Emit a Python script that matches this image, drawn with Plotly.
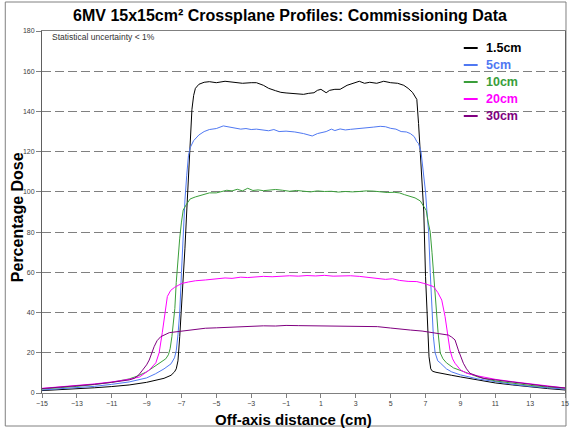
import plotly.graph_objects as go

# ---------------- data ----------------
depth_labels = ["1.5cm", "5cm", "10cm", "20cm", "30cm"]
line_colors = ["#000000", "#4f78f2", "#3a9e3a", "#ff00ff", "#800080"]

x_15 = [-15, -14, -13, -12, -11, -10, -9, -8.5, -8, -7.6, -7.4, -7.3, -7.2, -7.1, -7.0, -6.9, -6.8,
        -6.7, -6.6, -6.5, -6.4, -6.3, -6.2, -6.0, -5.7, -5.4, -5.0, -4.5, -4.0, -3.5, -3.0, -2.7,
        -2.3, -2.0, -1.6, -1.3, -1.0, -0.5, 0, 0.3, 0.6, 0.8, 1.0, 1.3, 1.5, 1.8, 2.1, 2.5, 2.8,
        3.2, 3.5, 3.8, 4.2, 4.6, 5.0, 5.4, 5.75, 6.0, 6.25, 6.5, 6.6, 6.7, 6.8, 6.9, 7.0, 7.1,
        7.2, 7.3, 7.4, 7.6, 8.0, 8.5, 9.0, 10, 11, 12, 13, 14, 15]
y_15 = [1.2, 1.6, 2.0, 2.6, 3.2, 4.0, 5.3, 6.2, 7.3, 8.8, 10.5, 12, 16, 28, 42, 55, 72,
        90, 108, 126, 141, 148, 151.5, 153.5, 154.5, 154.8, 154.3, 155, 154.5, 154, 154.3, 154.3,
        153, 151.5, 150.3, 149.5, 149.2, 149, 148.5, 149, 149.3, 150.5, 151, 149.3, 150.5, 151, 151, 153, 154,
        155, 154, 154.5, 154, 155, 154.3, 154, 153, 151.5, 149.5, 146, 134, 120, 108, 90, 58, 37,
        18, 12, 10.8, 10.3, 9.5, 8.8, 8.0, 6.5, 5.0, 4.0, 3.0, 2.2, 1.5]

x_5 = [-15, -14, -13, -12, -11, -10, -9, -8.5, -8, -7.6, -7.4, -7.3, -7.2, -7.1, -7.0, -6.9, -6.8,
       -6.7, -6.6, -6.5, -6.3, -6.0, -5.7, -5.4, -5.0, -4.6, -4.3, -4.0, -3.6, -3.3, -3.0, -2.7,
       -2.4, -2.0, -1.7, -1.4, -1.0, -0.5, 0, 0.3, 0.5, 0.8, 1.0, 1.3, 1.6, 1.8, 2.1, 2.4, 2.7,
       3.0, 3.5, 4.0, 4.4, 4.7, 5.0, 5.3, 5.6, 5.9, 6.13, 6.35, 6.5, 6.6, 6.74, 6.85, 7.0, 7.1,
       7.18, 7.27, 7.37, 7.45, 7.55, 7.7, 7.84, 8.2, 8.5, 9, 10, 11, 12, 13, 14, 15]
y_5 = [1.5, 2.0, 2.6, 3.3, 4.3, 5.5, 7.5, 9.5, 12, 14.5, 17.5, 21, 29, 40, 60, 82, 96,
       108, 118, 122, 125.5, 128.3, 130, 131, 131.5, 132.8, 132.4, 132, 131.2, 131.5, 131, 131.2,
       130.8, 130.4, 131, 130, 130.2, 129.8, 129, 128.3, 127.8, 129, 129.5, 130, 131.2, 130.5, 131.3, 130.8, 131.1,
       131.3, 131.6, 132.2, 132.6, 132.4, 131.6, 131.2, 130, 129.8, 129, 127.5, 125, 124, 120, 112, 100, 88,
       80, 60, 40, 28, 20, 16, 15, 12, 10.5, 9, 7, 5.5, 4.3, 3.3, 2.5, 1.9]

x_10 = [-15, -14, -13, -12, -11, -10, -9.5, -9, -8.6, -8.2, -7.9, -7.75, -7.65, -7.55, -7.45, -7.38,
        -7.3, -7.2, -7.1, -7.0, -6.9, -6.7, -6.5, -6.2, -6.0, -5.7, -5.4, -5.0, -4.7, -4.4, -4.1,
        -3.8, -3.5, -3.2, -2.9, -2.6, -2.3, -2.0, -1.6, -1.2, -0.8, -0.4, 0, 0.4, 0.8, 1.2, 1.6,
        2.0, 2.4, 2.8, 3.2, 3.6, 4.0, 4.4, 4.8, 5.2, 5.5, 5.8, 6.13, 6.4, 6.7, 6.9, 7.04, 7.15,
        7.27, 7.37, 7.46, 7.54, 7.61, 7.72, 7.84, 8.0, 8.2, 8.6, 9.07, 9.5, 10, 11, 12, 13, 14, 15]
y_10 = [2.0, 2.6, 3.3, 4.2, 5.3, 7.0, 8.5, 10.5, 13, 15.5, 17, 19, 22, 28, 35, 42,
        55, 68, 77, 85, 91, 94, 96.5, 97.5, 98, 99, 99.5, 99.5, 100.3, 100.8, 100.5,
        101.3, 100.5, 101.8, 100.7, 101, 100.6, 101, 101.2, 100.8, 100.3, 100.7, 100.2, 100, 100.5, 100.2, 100.3,
        99.9, 100.2, 100, 100.2, 100.5, 100.4, 100, 99.7, 99.8, 99.5, 98.6, 97.8, 97, 95.5, 93, 90.8, 85,
        80, 70, 60, 50, 40, 30, 20, 17, 15, 12.5, 11, 9.5, 8, 6, 4.8, 3.8, 3.0, 2.4]

x_20 = [-15, -14, -13, -12, -11, -10, -9.4, -8.85, -8.47, -8.28, -8.1, -7.94, -7.81, -7.62, -7.4,
        -7.15, -6.96, -6.6, -6.2, -5.63, -5.0, -4.5, -4.1, -3.6, -3.2, -2.8, -2.3, -1.8, -1.3,
        -0.8, -0.3, 0.2, 0.7, 1.2, 1.7, 2.2, 2.7, 3.2, 3.7, 4.24, 4.7, 5.1, 5.5, 6.0, 6.5, 6.9,
        7.2, 7.46, 7.7, 7.93, 8.12, 8.26, 8.4, 8.55, 8.69, 9.0, 9.36, 10, 10.7, 11, 12, 13, 14, 15]
y_20 = [2.3, 3.0, 3.6, 4.5, 5.5, 6.8, 8.0, 11.4, 15, 20, 30, 40, 48, 51, 52.5,
        53.7, 54.5, 55.2, 55.8, 56.2, 56.6, 57.2, 57, 57.6, 57.4, 57.8, 58, 57.8, 58.2,
        58.3, 58.1, 58.4, 58.2, 58.5, 58.1, 58.3, 58.3, 58, 57.5, 57, 56.5, 56.8, 56, 55.5, 55.4, 54.5,
        53.8, 52.9, 50, 46.2, 38, 29.7, 21.4, 17, 14.8, 11.5, 9.8, 8.5, 7.3, 6.8, 5.6, 4.6, 3.5, 2.5]

x_30 = [-15, -14, -13, -12, -11, -10, -9.7, -9.45, -9.23, -9.0, -8.85, -8.7, -8.57, -8.4, -8.19,
        -7.7, -7.15, -6.96, -6.5, -5.63, -5.0, -4.5, -3.73, -3.0, -2.3, -1.6, -1.0, -0.3, 0.4,
        1.0, 1.7, 2.4, 3.0, 3.6, 4.24, 5.0, 5.5, 6.13, 6.8, 7.46, 8.0, 8.31, 8.5, 8.69, 8.88,
        9.0, 9.17, 9.35, 9.55, 10.3, 11, 12, 13, 14, 15]
y_30 = [2.2, 2.8, 3.5, 4.3, 5.3, 6.5, 7.3, 9, 11.4, 14, 16.4, 20, 23, 26, 28,
        30, 30.5, 30.8, 31.3, 32.2, 32.4, 32.6, 33, 33.2, 33.4, 33.3, 33.6, 33.5, 33.4,
        33.5, 33.2, 33.3, 33.1, 33.2, 33, 32.3, 32, 31.3, 30.8, 30, 29.5, 28.8, 27.8, 26.4, 21.4,
        18.5, 14.8, 12, 9.8, 7.3, 6.5, 5.3, 4.3, 3.3, 2.5]

x_series = [x_15, x_5, x_10, x_20, x_30]
y_series = [y_15, y_5, y_10, y_20, y_30]

x_tickvals = list(range(-15, 16, 2))
y_tickvals = list(range(0, 181, 20))

title_text = "6MV 15x15cm² Crossplane Profiles: Commissioning Data"
x_title = "Off-axis distance (cm)"
y_title = "Percentage Dose"
note_text = "Statistical uncertainty < 1%"

# ---------------- figure ----------------
W, H = 571, 429
L, R, T, B = 42, 2, 31, 36
pw, ph = W - L - R, H - T - B


def px2paper_x(px):
    return (px - L) / pw


def px2paper_y(py):
    return (H - B - py) / ph


fig = go.Figure()
for lab, col, xs, ys in zip(depth_labels, line_colors, x_series, y_series):
    fig.add_trace(go.Scatter(x=xs, y=ys, mode="lines", line=dict(color=col, width=1),
                             name=lab, showlegend=False))

# compact legend (key samples + coloured bold labels), top-right
annotations = [
    dict(text=note_text, xref="paper", yref="paper",
         x=px2paper_x(50), y=px2paper_y(37), xanchor="left", yanchor="middle",
         showarrow=False, font=dict(family="Arial", size=8.5, color="#333333")),
    dict(text=f"<b>{y_title}</b>", xref="paper", yref="paper", textangle=-90,
         x=px2paper_x(17), y=px2paper_y(217), xanchor="center", yanchor="middle",
         showarrow=False, font=dict(family="Arial", size=16, color="#000000")),
    dict(text=f"<b>{x_title}</b>", xref="paper", yref="paper",
         x=px2paper_x(295), y=px2paper_y(409), xanchor="center", yanchor="top",
         showarrow=False, font=dict(family="Arial", size=15, color="#000000")),
]
shapes = [dict(type="rect", xref="paper", yref="paper",
               x0=px2paper_x(5), x1=px2paper_x(570), y0=px2paper_y(426), y1=px2paper_y(2),
               line=dict(color="#808080", width=1), fillcolor="rgba(0,0,0,0)", layer="below")]
for i, (lab, col) in enumerate(zip(depth_labels, line_colors)):
    yc = px2paper_y(48 + 17 * i)
    shapes.append(dict(type="line", xref="paper", yref="paper",
                       x0=px2paper_x(467), x1=px2paper_x(481), y0=yc, y1=yc,
                       line=dict(color=col, width=2)))
    annotations.append(dict(text=f"<b>{lab}</b>", xref="paper", yref="paper",
                            x=px2paper_x(487), y=yc, xanchor="left", yanchor="middle",
                            showarrow=False, font=dict(family="Arial", size=12.5, color=col)))

axis_font = dict(family="Arial", size=7, color="#404040")

fig.update_layout(
    width=W, height=H,
    margin=dict(l=L, r=R, t=T, b=B),
    paper_bgcolor="white", plot_bgcolor="white",
    font=dict(family="Arial"),
    title=dict(text=f"<b>{title_text}</b>", x=290 / W, xanchor="center",
               y=1 - 15 / H, yanchor="middle", yref="container",
               font=dict(family="Arial", size=16, color="#000000")),
    showlegend=False,
    xaxis=dict(range=[-15, 15], tickvals=x_tickvals, ticks="outside", ticklen=4,
               tickcolor="#808080", tickfont=axis_font, showgrid=False, zeroline=False,
               ticklabeloverflow="allow",
               showline=True, linecolor="#808080", linewidth=1, mirror=True),
    yaxis=dict(range=[0, 180], tickvals=y_tickvals, ticks="outside", ticklen=5,
               tickcolor="#808080", tickfont=axis_font, showgrid=True,
               gridcolor="#808080", griddash="9px,4px", gridwidth=1, zeroline=False,
               showline=True, linecolor="#606060", linewidth=1, mirror=True),
    annotations=annotations,
    shapes=shapes,
)

fig.write_html("out.html")
